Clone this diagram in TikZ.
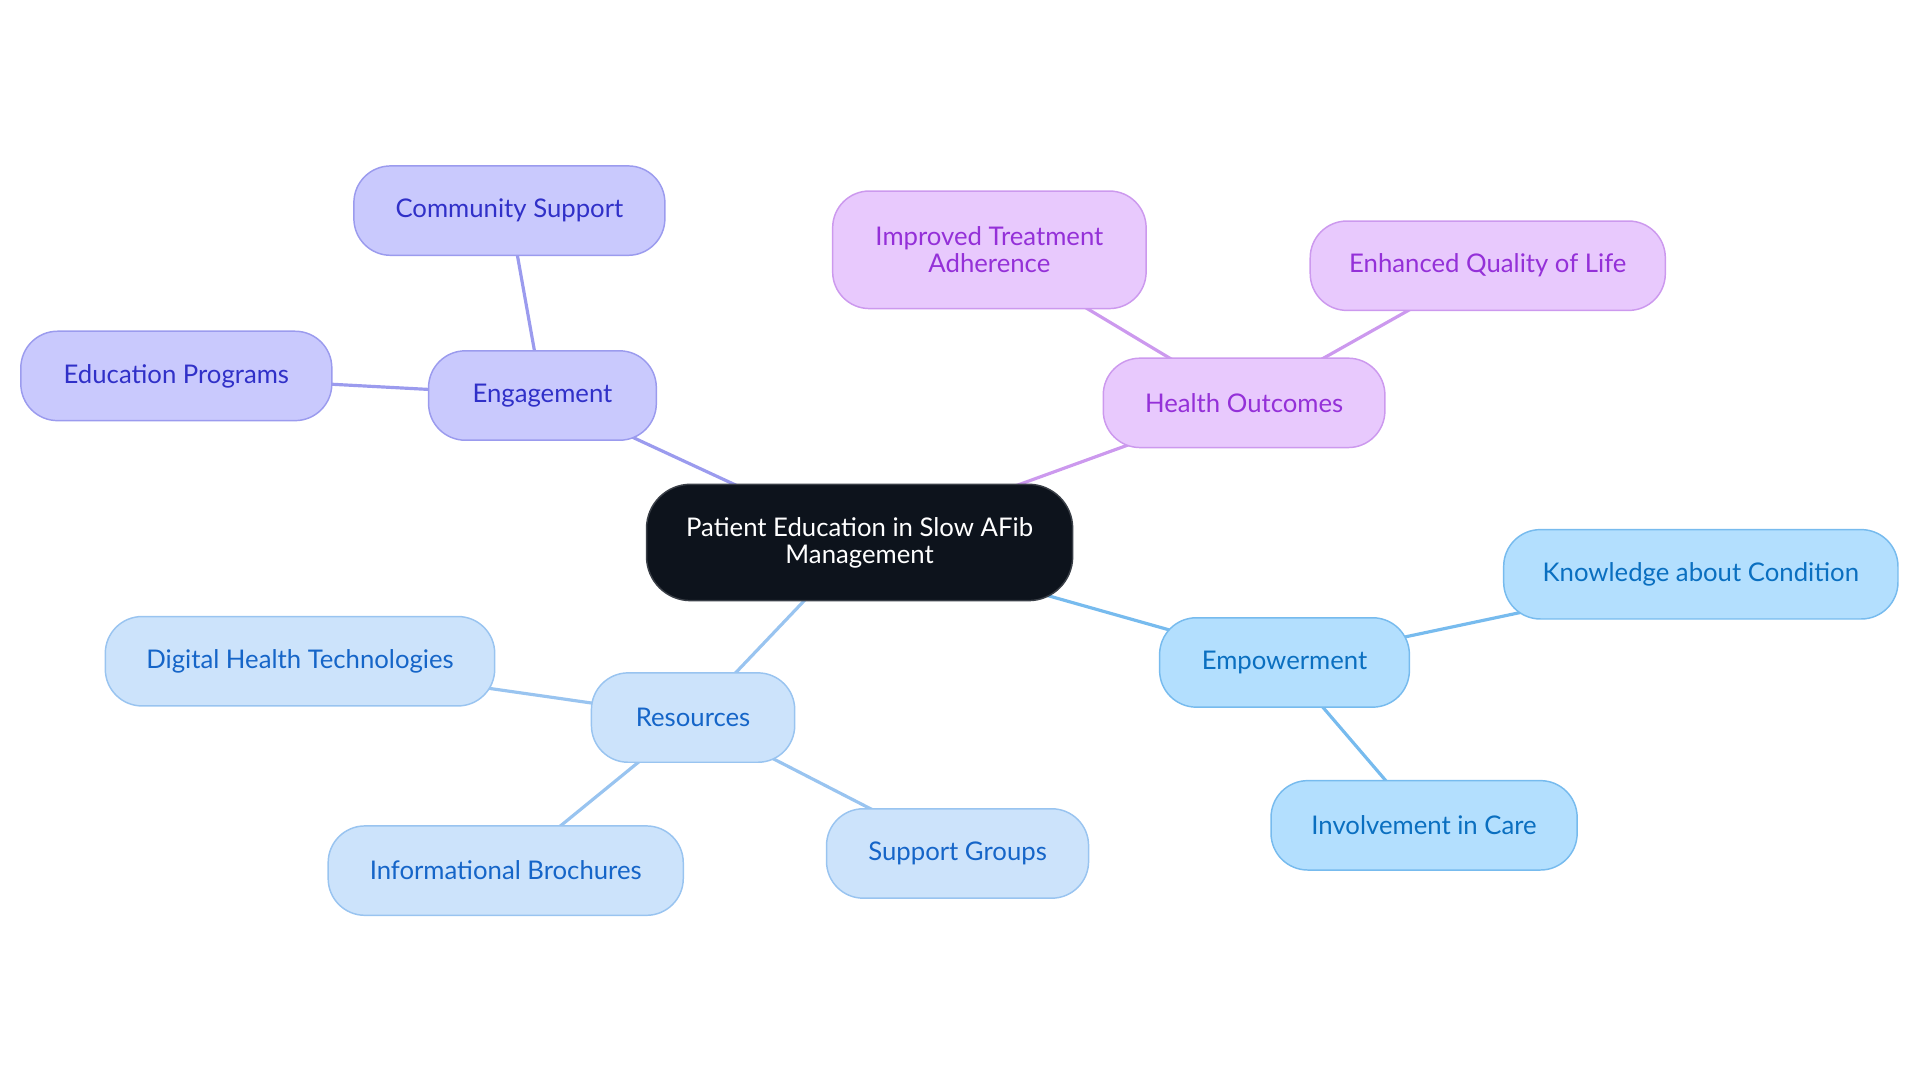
\documentclass[tikz,border=0pt]{standalone}
\usepackage{fontspec}
\setmainfont{Lato}
\usetikzlibrary{backgrounds}
\definecolor{cfill}{HTML}{0D131C}
\definecolor{cline}{HTML}{3A3F47}
\definecolor{engfill}{HTML}{C9C9FD}
\definecolor{engline}{HTML}{9B9BEE}
\definecolor{engtext}{HTML}{3030C8}
\definecolor{hofill}{HTML}{E8C9FD}
\definecolor{holine}{HTML}{CC99EE}
\definecolor{hotext}{HTML}{9430D8}
\definecolor{emfill}{HTML}{B3DFFE}
\definecolor{emline}{HTML}{77BBEE}
\definecolor{emtext}{HTML}{0A6FC0}
\definecolor{refill}{HTML}{CCE3FB}
\definecolor{reline}{HTML}{99C4F0}
\definecolor{retext}{HTML}{1565C8}
\tikzset{
  box/.style={rounded corners=30pt, line width=1.2pt, minimum height=73pt,
    align=center, inner sep=0pt, font=\fontsize{21}{22}\selectfont},
  cbox/.style={box, fill=cfill, draw=cline, text=white, minimum height=95pt, rounded corners=36pt},
  engbox/.style={box, fill=engfill, draw=engline, text=engtext},
  hobox/.style={box, fill=hofill, draw=holine, text=hotext},
  embox/.style={box, fill=emfill, draw=emline, text=emtext},
  rebox/.style={box, fill=refill, draw=reline, text=retext},
  edge/.style={line width=2.6pt},
  engedge/.style={edge, draw=engline},
  hoedge/.style={edge, draw=holine},
  emedge/.style={edge, draw=emline},
  reedge/.style={edge, draw=reline}
}
\begin{document}
\begin{tikzpicture}[x=1pt,y=-1pt]
\useasboundingbox (0,0) rectangle (1568,884);
\node[cbox, minimum width=348pt] (c) at (702,443) {Patient Education in Slow AFib\\Management};
\node[engbox, minimum width=186pt] (eng) at (443,323) {Engagement};
\node[engbox, minimum width=254pt] (cs) at (416,172) {Community Support};
\node[engbox, minimum width=254pt] (ep) at (144,307) {Education Programs};
\node[hobox, minimum width=230pt] (ho) at (1016,329) {Health Outcomes};
\node[hobox, minimum width=256pt, minimum height=96pt] (ita) at (808,204) {Improved Treatment\\Adherence};
\node[hobox, minimum width=290pt] (eql) at (1215,217) {Enhanced Quality of Life};
\node[embox, minimum width=204pt] (em) at (1049,541) {Empowerment};
\node[embox, minimum width=322pt] (kc) at (1389,469) {Knowledge about Condition};
\node[embox, minimum width=250pt] (ic) at (1163,674) {Involvement in Care};
\node[rebox, minimum width=166pt] (re) at (566,586) {Resources};
\node[rebox, minimum width=318pt] (dh) at (245,540) {Digital Health Technologies};
\node[rebox, minimum width=290pt] (ib) at (413,711) {Informational Brochures};
\node[rebox, minimum width=214pt] (sg) at (782,697) {Support Groups};
\begin{pgfonlayer}{background}
\draw[engedge] (c.center) -- (eng.center);
\draw[engedge] (eng.center) -- (cs.center);
\draw[engedge] (eng.center) -- (ep.center);
\draw[hoedge] (c.center) -- (ho.center);
\draw[hoedge] (ho.center) -- (ita.center);
\draw[hoedge] (ho.center) -- (eql.center);
\draw[emedge] (c.center) -- (em.center);
\draw[emedge] (em.center) -- (kc.center);
\draw[emedge] (em.center) -- (ic.center);
\draw[reedge] (c.center) -- (re.center);
\draw[reedge] (re.center) -- (dh.center);
\draw[reedge] (re.center) -- (ib.center);
\draw[reedge] (re.center) -- (sg.center);
\end{pgfonlayer}
\end{tikzpicture}
\end{document}
